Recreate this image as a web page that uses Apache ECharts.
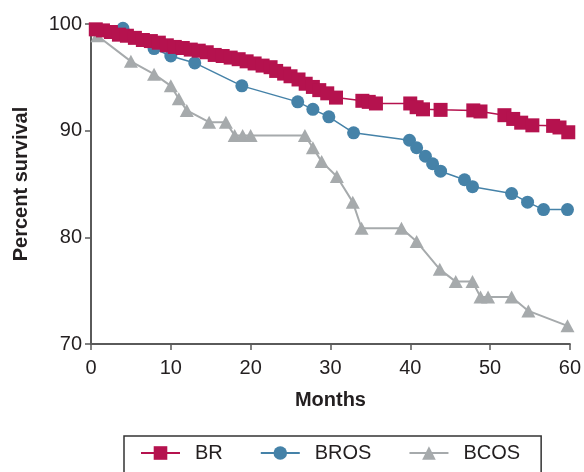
<!DOCTYPE html>
<html>
<head>
<meta charset="utf-8">
<script src="https://cdn.jsdelivr.net/npm/echarts@6/dist/echarts.min.js"></script>
<style>
  html, body { margin: 0; padding: 0; background: #fff; }
  #survival_chart { width: 584px; height: 472px; }
</style>
</head>
<body>
<div id="survival_chart"></div>
<script>
// series names as in the legend
let series_names = ['BR', 'BROS', 'BCOS'];

// BR
let br_months = [0.6, 1.5, 2.5, 3.5, 4.5, 5.5, 6.5, 7.5, 8.5, 9.5, 10.5, 11.5, 12.5, 13.5, 14.5, 15.5, 16.5, 17.5, 18.5, 19.5, 20.5, 21.5, 22.5, 23.2, 24.2, 25.0, 26.0, 26.9, 27.8, 28.6, 29.6, 30.7, 34.0, 34.8, 35.7, 40.0, 40.8, 41.6, 43.8, 47.9, 48.8, 51.8, 52.9, 53.9, 55.3, 57.9, 58.7, 59.8];
let br_survival = [99.5, 99.4, 99.25, 99.0, 98.9, 98.7, 98.5, 98.4, 98.25, 98.0, 97.85, 97.75, 97.6, 97.5, 97.35, 97.1, 97.0, 96.85, 96.7, 96.5, 96.3, 96.1, 95.95, 95.6, 95.35, 95.1, 94.8, 94.4, 94.1, 93.8, 93.5, 93.1, 92.8, 92.7, 92.55, 92.55, 92.2, 92.0, 91.95, 91.9, 91.8, 91.45, 91.1, 90.75, 90.5, 90.45, 90.3, 89.85];

// BROS
let bros_months = [4.0, 7.9, 10.0, 13.0, 18.9, 25.9, 27.8, 29.8, 32.9, 39.9, 40.8, 41.9, 42.8, 43.8, 46.8, 47.8, 52.7, 54.7, 56.7, 59.7];
let bros_survival = [99.6, 97.7, 97.0, 96.35, 94.2, 92.7, 92.0, 91.3, 89.8, 89.1, 88.4, 87.6, 86.9, 86.2, 85.4, 84.75, 84.1, 83.3, 82.6, 82.6];

// BCOS
let bcos_months = [0.8, 5.0, 7.9, 10.0, 11.0, 12.0, 14.8, 16.9, 18.0, 19.0, 20.0, 26.8, 27.8, 28.9, 30.8, 32.8, 33.9, 38.9, 40.8, 43.7, 45.7, 47.8, 48.8, 49.75, 52.7, 54.8, 59.7];
let bcos_survival = [98.9, 96.5, 95.3, 94.2, 93.0, 91.9, 90.8, 90.8, 89.55, 89.55, 89.55, 89.55, 88.4, 87.1, 85.7, 83.3, 80.85, 80.85, 79.6, 77.0, 75.85, 75.85, 74.4, 74.4, 74.4, 73.1, 71.7];

let font = '"Liberation Sans", Arial, Helvetica, sans-serif';
let axis_color = '#5a5a5a';
let text_color = '#231f20';

function pairs(xs, ys) {
    return xs.map((x, i) => [x, ys[i]]);
}

function line_series(name, data, color, symbol, size, width, z) {
    return {
        name: name,
        type: 'line',
        data: data,
        symbol: symbol,
        symbolSize: size,
        showAllSymbol: true,
        z: z,
        itemStyle: {color: color},
        lineStyle: {color: color, width: width},
        emphasis: {disabled: true},
        animation: false,
    };
}

let survival_chart = echarts.init(document.getElementById('survival_chart'));

let option = {
    animation: false,
    textStyle: {fontFamily: font, color: text_color},
    grid: {left: 91, top: 24, right: 12, bottom: 128, containLabel: false},
    xAxis: {
        type: 'value',
        min: 0,
        max: 60,
        interval: 10,
        name: 'Months',
        nameLocation: 'middle',
        nameGap: 46,
        nameTextStyle: {fontSize: 20, fontWeight: 'bold', color: text_color, fontFamily: font},
        axisLine: {show: true, lineStyle: {color: axis_color, width: 2}},
        axisTick: {show: true, length: 6, lineStyle: {color: axis_color, width: 1.5}},
        axisLabel: {fontSize: 20, color: text_color, margin: 14, fontFamily: font},
        splitLine: {show: false},
    },
    yAxis: {
        type: 'value',
        min: 70,
        max: 100,
        interval: 10,
        name: 'Percent survival',
        nameLocation: 'middle',
        nameGap: 60,
        nameTextStyle: {fontSize: 20, fontWeight: 'bold', color: text_color, fontFamily: font},
        axisLine: {show: true, lineStyle: {color: axis_color, width: 2}},
        axisTick: {show: true, length: 6, lineStyle: {color: axis_color, width: 1.5}},
        axisLabel: {fontSize: 20, color: text_color, margin: 9, fontFamily: font},
        splitLine: {show: false},
    },
    legend: {
        data: series_names,
        left: 124,
        top: 436,
        orient: 'horizontal',
        padding: [7, 21, 30, 16],
        borderColor: '#333',
        borderWidth: 1.5,
        itemWidth: 39,
        itemHeight: 17,
        itemGap: 37,
        textStyle: {fontSize: 20, color: text_color, fontFamily: font, padding: [0, 0, 0, 10]},
    },
    series: [
        line_series('BR', pairs(br_months, br_survival), '#b5124e', 'rect', 14, 1.5, 4),
        line_series('BROS', pairs(bros_months, bros_survival), '#4582a8', 'circle', 13, 1.5, 3),
        line_series('BCOS', pairs(bcos_months, bcos_survival), '#a6aaac', 'triangle', [14, 13], 2, 2),
    ],
};

survival_chart.setOption(option);
</script>
</body>
</html>
